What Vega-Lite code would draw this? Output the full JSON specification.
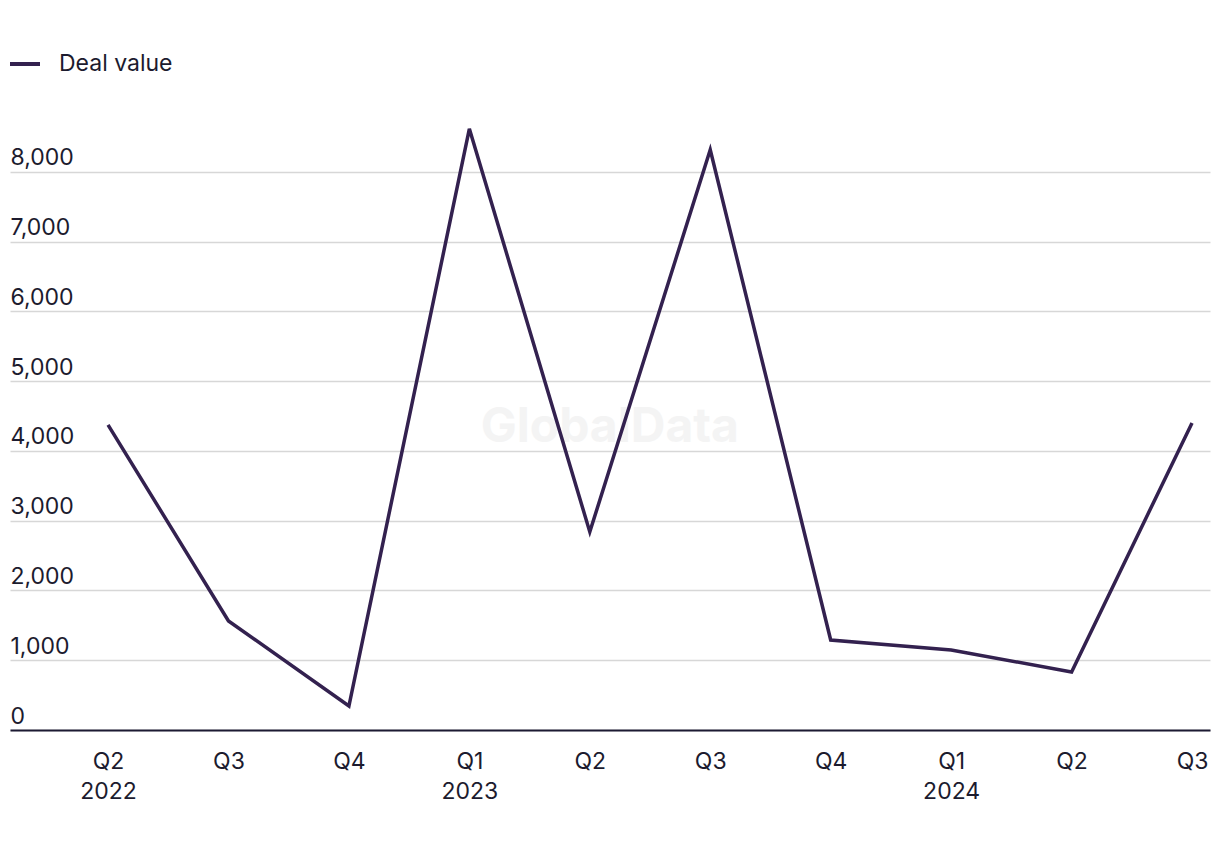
{
  "$schema": "https://vega.github.io/schema/vega-lite/v6.json",
  "width": 1200,
  "height": 628,
  "autosize": {"type": "none"},
  "padding": {"left": 10, "top": 102, "right": 10, "bottom": 120},
  "background": "white",
  "config": {
    "font": "Inter",
    "view": {"stroke": null},
    "axis": {"labelFont": "Inter", "labelColor": "#1c1b2e", "labelFontSize": 23, "titleFont": "Inter"},
    "legend": {"labelFont": "Inter"}
  },
  "data": {
    "values": [
      {"quarter": "Q2 2022", "value": 4373, "series": "Deal value"},
      {"quarter": "Q3 2022", "value": 1563, "series": "Deal value"},
      {"quarter": "Q4 2022", "value": 344, "series": "Deal value"},
      {"quarter": "Q1 2023", "value": 8616, "series": "Deal value"},
      {"quarter": "Q2 2023", "value": 2839, "series": "Deal value"},
      {"quarter": "Q3 2023", "value": 8315, "series": "Deal value"},
      {"quarter": "Q4 2023", "value": 1290, "series": "Deal value"},
      {"quarter": "Q1 2024", "value": 1147, "series": "Deal value"},
      {"quarter": "Q2 2024", "value": 832, "series": "Deal value"},
      {"quarter": "Q3 2024", "value": 4401, "series": "Deal value"}
    ]
  },
  "encoding": {
    "x": {
      "field": "quarter",
      "type": "ordinal",
      "sort": null,
      "scale": {
        "type": "point",
        "padding": 0.4816,
        "align": 0.845,
        "domain": ["Q2 2022", "Q3 2022", "Q4 2022", "Q1 2023", "Q2 2023", "Q3 2023", "Q4 2023", "Q1 2024", "Q2 2024", "Q3 2024"]
      },
      "axis": {
        "title": null,
        "labelAngle": 0,
        "ticks": false,
        "grid": false,
        "domain": true,
        "domainColor": "#1c1a33",
        "domainWidth": 2,
        "labelPadding": 20,
        "labelBaseline": "top",
        "labelLineHeight": 30,
        "labelExpr": "(datum.value == 'Q2 2022' || indexof(datum.value, 'Q1') == 0) ? split(datum.value, ' ') : slice(datum.value, 0, 2)"
      }
    },
    "y": {
      "field": "value",
      "type": "quantitative",
      "scale": {"domain": [0, 9000], "nice": false},
      "axis": {
        "title": null,
        "values": [0, 1000, 2000, 3000, 4000, 5000, 6000, 7000, 8000],
        "format": ",d",
        "ticks": false,
        "domain": false,
        "grid": true,
        "gridColor": "#d7d7d7",
        "gridWidth": 1.5,
        "labelAlign": "left",
        "labelPadding": 0,
        "labelBaseline": "alphabetic",
        "labelOffset": -7
      }
    }
  },
  "layer": [
    {
      "data": {"values": [{"label": "GlobalData", "quarter": "Q2 2023", "value": 4330}]},
      "mark": {"type": "text", "font": "Inter", "fontWeight": "bold", "fontSize": 48, "color": "#f4f4f4", "dx": 20, "align": "center", "baseline": "middle"},
      "encoding": {
        "text": {"field": "label"}
      }
    },
    {
      "mark": {"type": "line", "strokeWidth": 3.5, "strokeJoin": "miter"},
      "encoding": {
        "color": {
          "field": "series",
          "type": "nominal",
          "scale": {"range": ["#33214f"]},
          "legend": {
            "title": null,
            "orient": "none",
            "legendX": -2,
            "legendY": -55,
            "symbolType": "stroke",
            "symbolSize": 900,
            "symbolStrokeWidth": 4,
            "labelFontSize": 23,
            "labelColor": "#1c1b2e",
            "labelOffset": 17
          }
        }
      }
    }
  ]
}
